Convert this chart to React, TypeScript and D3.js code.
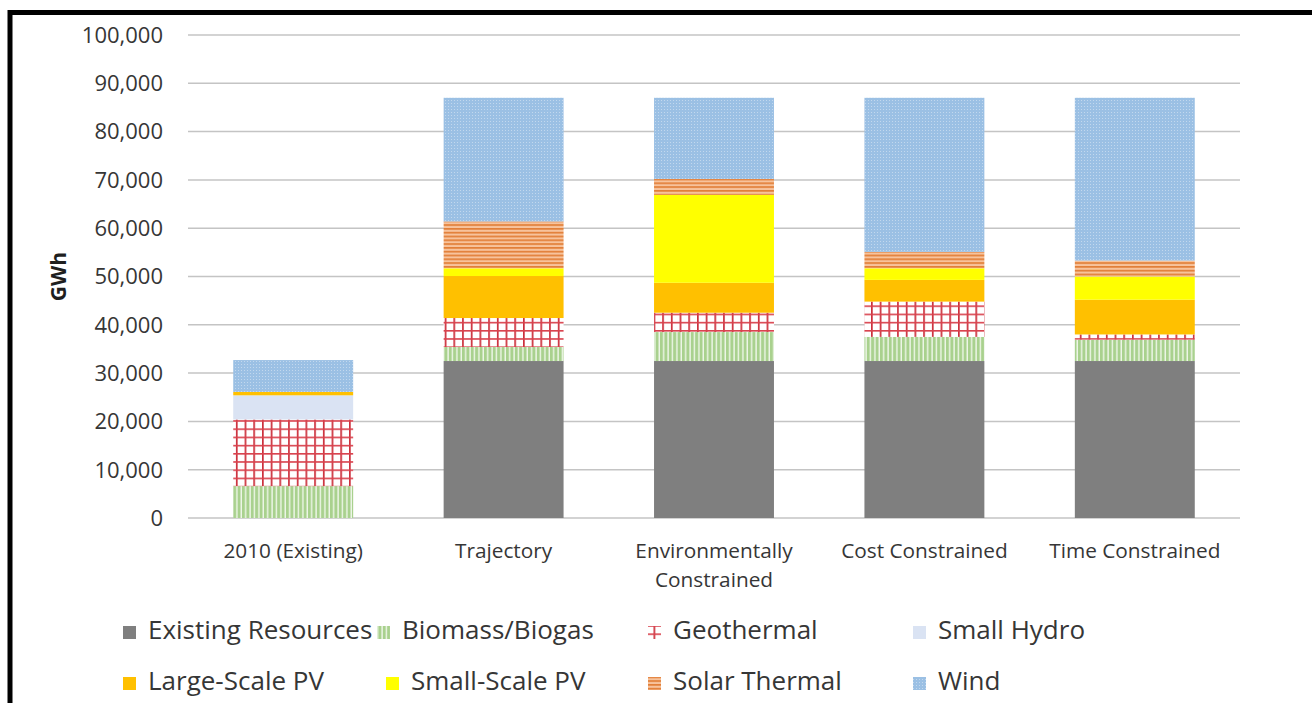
import React from "react";
import * as d3 from "d3";

// Annual generation by scenario (GWh)
const categories = [
  "2010 (Existing)",
  "Trajectory",
  "Environmentally\nConstrained",
  "Cost Constrained",
  "Time Constrained",
];

const seriesNames = [
  "Existing Resources",
  "Biomass/Biogas",
  "Geothermal",
  "Small Hydro",
  "Large-Scale PV",
  "Small-Scale PV",
  "Solar Thermal",
  "Wind",
];

const existingResources = [0, 32500, 32500, 32500, 32500];
const biomassBiogas = [6600, 2900, 6000, 5000, 4400];
const geothermal = [13800, 6000, 4000, 7300, 1100];
const smallHydro = [5000, 0, 0, 0, 0];
const largeScalePV = [700, 8700, 6200, 4500, 7200];
const smallScalePV = [0, 1600, 18200, 2400, 4800];
const solarThermal = [0, 9700, 3300, 3400, 3300];
const wind = [6600, 25600, 16800, 31900, 33700];

const yTicks = [0, 10000, 20000, 30000, 40000, 50000, 60000, 70000, 80000, 90000, 100000];

const seriesValues = [
  existingResources,
  biomassBiogas,
  geothermal,
  smallHydro,
  largeScalePV,
  smallScalePV,
  solarThermal,
  wind,
];

const fills = [
  "#7f7f7f",
  "url(#pat-biomass)",
  "url(#pat-geo)",
  "#dae3f3",
  "#ffc000",
  "#ffff00",
  "url(#pat-solar)",
  "url(#pat-wind)",
];

const W = 1312;
const H = 703;
const FONT = "'Open Sans', 'DejaVu Sans', sans-serif";
const TEXT = "#363636";

const plot = { left: 188, right: 1240, top: 35, bottom: 518 };

export default function App() {
  const rows = categories.map((c, i) => {
    const r: Record<string, number | string> = { category: c };
    seriesNames.forEach((s, k) => (r[s] = seriesValues[k][i]));
    return r;
  });

  const stack = d3.stack<Record<string, number | string>>().keys(seriesNames);
  const layers = stack(rows as any);

  const x = d3
    .scaleBand<string>()
    .domain(categories)
    .range([plot.left, plot.right])
    .paddingInner(0.43)
    .paddingOuter(0.215);

  const y = d3.scaleLinear().domain([0, 100000]).range([plot.bottom, plot.top]);
  const fmt = d3.format(",");

  // legend grid: column x positions per row
  const legendCols = [
    [123, 377, 648, 913],
    [123, 386, 648, 913],
  ];
  const legendRowY = [626, 677];
  const sw = 13;

  return (
    <div style={{ position: "fixed", left: 0, top: 0, width: W, height: H, background: "#fff" }}>
      <svg width={W} height={H} style={{ display: "block" }}>
        <defs>
          <pattern id="pat-biomass" patternUnits="userSpaceOnUse" width={4.4} height={10}>
            <rect width={4.4} height={10} fill="#a9d18e" />
            <rect x={3} width={1.4} height={10} fill="#ffffff" opacity={0.8} />
          </pattern>
          <pattern id="pat-geo" patternUnits="userSpaceOnUse" width={8.7} height={8.2} x={1} y={2}>
            <rect width={8.7} height={8.2} fill="#ffffff" />
            <rect x={0} y={0} width={1.7} height={8.2} fill="#cc2f3b" />
            <rect x={0} y={0} width={8.7} height={1.6} fill="#d9424d" />
          </pattern>
          <pattern id="pat-solar" patternUnits="userSpaceOnUse" width={10} height={3.8}>
            <rect width={10} height={3.8} fill="#f7c39c" />
            <rect y={0} width={10} height={1.7} fill="#e27f38" />
          </pattern>
          <pattern id="pat-wind" patternUnits="userSpaceOnUse" width={3} height={3}>
            <rect width={3} height={3} fill="#9bc0e4" />
            <rect x={1} y={1} width={1} height={1} fill="#c2d8ee" />
          </pattern>
        </defs>

        {/* frame */}
        <rect x={10} y={12.5} width={W + 100} height={H + 100} fill="none" stroke="#000" strokeWidth={5} />

        {/* gridlines */}
        {yTicks.map((t) => (
          <line
            key={t}
            x1={plot.left}
            x2={plot.right}
            y1={y(t)}
            y2={y(t)}
            stroke="#c4c4c4"
            strokeWidth={1.5}
          />
        ))}

        {/* y tick labels */}
        {yTicks.map((t) => (
          <text
            key={"l" + t}
            x={163}
            y={y(t) + 7.8}
            textAnchor="end"
            fontFamily={FONT}
            fontSize={22}
            fill={TEXT}
          >
            {fmt(t)}
          </text>
        ))}

        {/* y axis title */}
        <text
          transform={`translate(66, ${(plot.top + plot.bottom) / 2}) rotate(-90)`}
          textAnchor="middle"
          fontFamily={FONT}
          fontSize={21}
          fontWeight="bold"
          fill="#1f1f1f"
        >
          GWh
        </text>

        {/* stacked bars */}
        {layers.map((layer, k) => (
          <g key={layer.key} fill={fills[k]}>
            {layer.map((d, i) => {
              const h = y(d[0]) - y(d[1]);
              if (h <= 0) return null;
              return (
                <rect
                  key={i}
                  x={x(categories[i])}
                  y={y(d[1])}
                  width={x.bandwidth()}
                  height={h}
                />
              );
            })}
          </g>
        ))}

        {/* category labels */}
        {categories.map((c) => {
          const cx = (x(c) as number) + x.bandwidth() / 2;
          return (
            <text key={c} textAnchor="middle" fontFamily={FONT} fontSize={20.8} fill={TEXT}>
              {c.split("\n").map((line, j) => (
                <tspan key={j} x={cx} y={558 + j * 29}>
                  {line}
                </tspan>
              ))}
            </text>
          );
        })}

        {/* legend */}
        {seriesNames.map((s, k) => {
          const row = Math.floor(k / 4);
          const col = k % 4;
          const lx = legendCols[row][col];
          const ly = legendRowY[row];
          return (
            <g key={s}>
              <rect x={lx} y={ly} width={sw} height={sw} fill={fills[k]} />
              <text
                x={lx + sw + 12}
                y={ly + sw}
                fontFamily={FONT}
                fontSize={26}
                fill={TEXT}
              >
                {s}
              </text>
            </g>
          );
        })}
      </svg>
    </div>
  );
}
